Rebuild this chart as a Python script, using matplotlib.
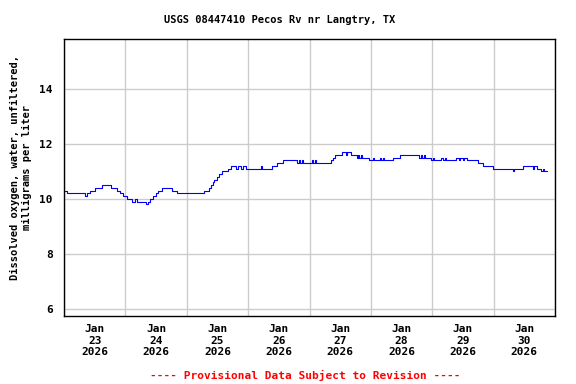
import pandas as pd
import matplotlib
matplotlib.use("Agg")
import matplotlib.pyplot as plt

# Dissolved oxygen readings (step changes), hours after 2026-01-23 00:00
hours = [0, 1.3, 8.2, 8.8, 10.2, 12.1, 14.7, 18.3, 20.6, 21.9, 23.2, 24.5,
         26.5, 27.8, 28.5, 32.1, 32.7, 33.6, 34.9, 35.8, 36.9, 38.2, 42.1,
         44.2, 54.7, 56.8, 57.5, 58.1, 58.8, 59.7, 60.7, 61.6, 64.2, 65.2,
         67.2, 68.1, 69.1, 70.1, 71.0, 77.0, 77.5, 81.2, 83.1, 85.6, 91.1,
         91.9, 92.4, 93.0, 93.6, 96.9, 97.5, 98.1, 98.7, 104.6, 105.0, 105.9,
         108.9, 110.2, 110.7, 112.1, 114.4, 114.9, 115.4, 116.0, 116.6, 119.3,
         120.8, 121.2, 123.5, 123.9, 124.8, 125.2, 128.7, 131.3, 138.9, 139.5,
         140.1, 140.7, 141.1, 143.7, 144.2, 144.6, 147.6, 148.1, 148.9, 149.5,
         153.2, 154.4, 154.8, 156.0, 156.4, 157.5, 158.7, 161.9, 163.9, 167.8,
         175.5, 176.0, 179.3, 183.3, 183.9, 184.8, 186.7, 187.2, 187.8, 188.7]
do_mgl = [10.3, 10.2, 10.1, 10.2, 10.3, 10.4, 10.5, 10.4, 10.3, 10.2, 10.1, 10.0,
          9.9, 10.0, 9.9, 9.8, 9.9, 10.0, 10.1, 10.2, 10.3, 10.4, 10.3,
          10.2, 10.3, 10.4, 10.5, 10.6, 10.7, 10.8, 10.9, 11.0, 11.1, 11.2,
          11.1, 11.2, 11.1, 11.2, 11.1, 11.2, 11.1, 11.2, 11.3, 11.4, 11.3,
          11.4, 11.3, 11.4, 11.3, 11.4, 11.3, 11.4, 11.3, 11.4, 11.5, 11.6,
          11.7, 11.6, 11.7, 11.6, 11.5, 11.6, 11.5, 11.6, 11.5, 11.4,
          11.5, 11.4, 11.5, 11.4, 11.5, 11.4, 11.5, 11.6, 11.5, 11.6,
          11.5, 11.6, 11.5, 11.4, 11.5, 11.4, 11.5, 11.4, 11.5, 11.4,
          11.5, 11.4, 11.5, 11.4, 11.5, 11.4, 11.4, 11.3, 11.2, 11.1,
          11.0, 11.1, 11.2, 11.1, 11.2, 11.1, 11.0, 11.1, 11.0, 11.0]

start = pd.Timestamp("2026-01-23")
times = [start + pd.Timedelta(hours=h) for h in hours]
days = pd.date_range("2026-01-23", "2026-01-31", freq="D")
y_ticks = [6, 8, 10, 12, 14]

mono = "DejaVu Sans Mono"
fs = 8

fig = plt.figure(figsize=(5.76, 3.84), dpi=100)
ax = fig.add_axes([64 / 576, 1 - 316 / 384, (555 - 64) / 576, (316 - 39) / 384])

ax.plot(times, do_mgl, color="#0000ff", lw=0.8, drawstyle="steps-post")

ax.set_xlim(days[0], days[-1])
ax.set_ylim(5.75, 15.8)

# grid at midnight, labels at noon
ax.set_xticks(days)
ax.set_xticklabels([])
ax.set_xticks(days[:-1] + pd.Timedelta(hours=12), minor=True)
ax.set_xticklabels([f"Jan\n{d.day}\n{d.year}" for d in days[:-1]], minor=True,
                   fontfamily=mono, fontweight="bold", fontsize=fs, linespacing=1.15)
ax.set_yticks(y_ticks)
ax.set_yticklabels([str(v) for v in y_ticks], fontfamily=mono, fontweight="bold", fontsize=fs)
ax.tick_params(axis="both", which="both", length=0)
ax.tick_params(axis="x", which="minor", pad=6)
ax.tick_params(axis="y", pad=8)

ax.grid(True, which="major", color="#cccccc", lw=1)
ax.set_axisbelow(True)
for sp in ax.spines.values():
    sp.set_color("black")
    sp.set_linewidth(1)

fig.text(280 / 576, 1 - 20 / 384, "USGS 08447410 Pecos Rv nr Langtry, TX",
         ha="center", va="center", fontfamily=mono, fontweight="bold", fontsize=7.5)
fig.text(21 / 576, 1 - 168 / 384, "Dissolved oxygen, water, unfiltered,\nmilligrams per liter",
         ha="center", va="center", rotation=90, fontfamily=mono, fontweight="bold",
         fontsize=7.5, linespacing=1.35)
fig.text(305 / 576, 1 - 375 / 384, "---- Provisional Data Subject to Revision ----",
         ha="center", va="center", color="red", fontfamily=mono, fontweight="bold", fontsize=fs)

fig.savefig("out.png", dpi=100)
